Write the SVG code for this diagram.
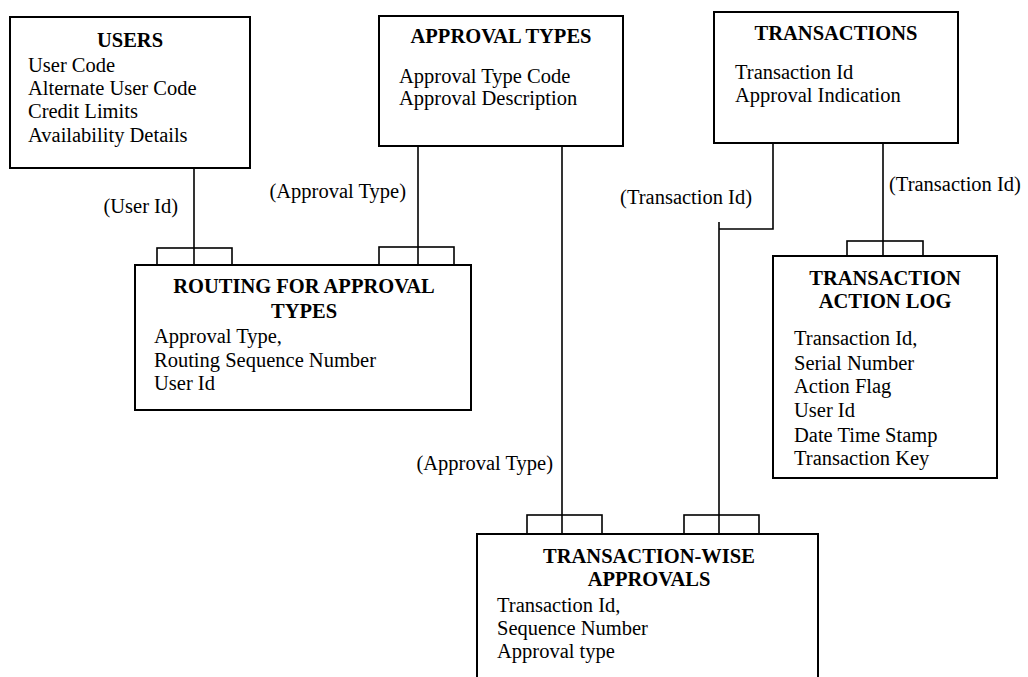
<svg xmlns="http://www.w3.org/2000/svg" width="1028" height="677" viewBox="0 0 1028 677">
  <style>
    .box { fill: #ffffff; stroke: #000000; stroke-width: 2; }
    .tab { fill: #ffffff; stroke: #000000; stroke-width: 1.6; }
    .link { fill: none; stroke: #000000; stroke-width: 1.6; }
    text { font-family: "Liberation Serif", "Times New Roman", serif; font-size: 20.5px; fill: #000000; }
    .title { font-weight: bold; text-anchor: middle; }
    .end { text-anchor: end; }
  </style>
  <rect width="1028" height="677" fill="#ffffff"/>

  <!-- relationship lines -->
  <g id="connectors">
    <line class="link" x1="194" y1="168" x2="194" y2="265"/>
    <line class="link" x1="418" y1="146" x2="418" y2="265"/>
    <line class="link" x1="562" y1="146" x2="562" y2="534"/>
    <polyline class="link" points="773,143 773,229 719,229"/>
    <line class="link" x1="719" y1="222" x2="719" y2="534"/>
    <line class="link" x1="883" y1="143" x2="883" y2="256"/>
    <text x="178" y="213" class="end">(User Id)</text>
    <text x="406" y="198" class="end">(Approval Type)</text>
    <text x="553" y="470" class="end">(Approval Type)</text>
    <text x="752" y="204" class="end">(Transaction Id)</text>
    <text x="889" y="191">(Transaction Id)</text>
  </g>

  <g id="users">
    <rect class="box" x="10" y="17" width="240" height="151"/>
    <text x="130" y="47" class="title">USERS</text>
    <text x="28" y="72">User Code</text>
    <text x="28" y="95">Alternate User Code</text>
    <text x="28" y="118">Credit Limits</text>
    <text x="28" y="142">Availability Details</text>
  </g>

  <g id="approval-types">
    <rect class="box" x="379" y="16" width="244" height="130"/>
    <text x="501" y="43" class="title">APPROVAL TYPES</text>
    <text x="399" y="83">Approval Type Code</text>
    <text x="399" y="105">Approval Description</text>
  </g>

  <g id="transactions">
    <rect class="box" x="714" y="12" width="244" height="131"/>
    <text x="836" y="40" class="title">TRANSACTIONS</text>
    <text x="735" y="79">Transaction Id</text>
    <text x="735" y="102">Approval Indication</text>
  </g>

  <g id="routing-for-approval-types">
    <rect class="tab" x="157" y="248" width="75" height="17"/>
    <rect class="tab" x="379" y="247" width="75" height="18"/>
    <line class="link" x1="194" y1="248" x2="194" y2="265"/>
    <line class="link" x1="418" y1="247" x2="418" y2="265"/>
    <rect class="box" x="135" y="265" width="336" height="145"/>
    <text x="304" y="293" class="title">ROUTING FOR APPROVAL</text>
    <text x="304" y="318" class="title">TYPES</text>
    <text x="154" y="343">Approval Type,</text>
    <text x="154" y="367">Routing Sequence Number</text>
    <text x="154" y="390">User Id</text>
  </g>

  <g id="transaction-action-log">
    <rect class="tab" x="847" y="241" width="76" height="15"/>
    <line class="link" x1="883" y1="241" x2="883" y2="256"/>
    <rect class="box" x="773" y="256" width="224" height="222"/>
    <text x="885" y="285" class="title">TRANSACTION</text>
    <text x="885" y="308" class="title">ACTION LOG</text>
    <text x="794" y="345">Transaction Id,</text>
    <text x="794" y="370">Serial Number</text>
    <text x="794" y="393">Action Flag</text>
    <text x="794" y="417">User Id</text>
    <text x="794" y="442">Date Time Stamp</text>
    <text x="794" y="465">Transaction Key</text>
  </g>

  <g id="transaction-wise-approvals">
    <rect class="tab" x="527" y="515" width="75" height="19"/>
    <rect class="tab" x="684" y="515" width="75" height="19"/>
    <line class="link" x1="562" y1="515" x2="562" y2="534"/>
    <line class="link" x1="719" y1="515" x2="719" y2="534"/>
    <rect class="box" x="477" y="534" width="341" height="150"/>
    <text x="649" y="563" class="title">TRANSACTION-WISE</text>
    <text x="649" y="586" class="title">APPROVALS</text>
    <text x="497" y="612">Transaction Id,</text>
    <text x="497" y="635">Sequence Number</text>
    <text x="497" y="658">Approval type</text>
  </g>
</svg>
